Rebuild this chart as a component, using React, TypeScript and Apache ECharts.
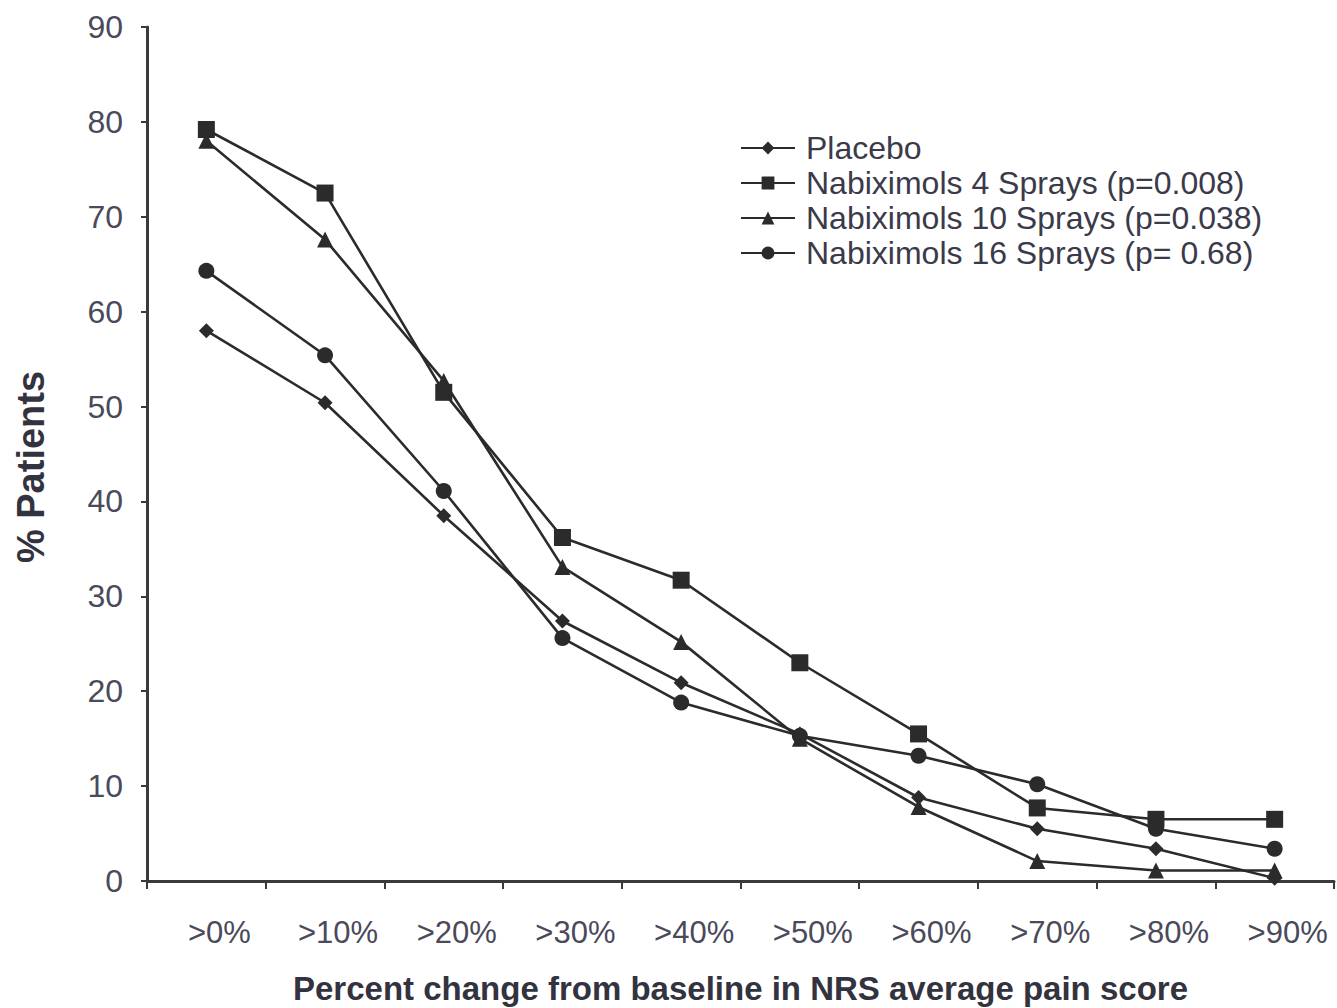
import React, { useEffect, useRef } from "react";
import * as echarts from "echarts";

const categories = [">0%", ">10%", ">20%", ">30%", ">40%", ">50%", ">60%", ">70%", ">80%", ">90%"];
const placebo = [58.0, 50.4, 38.5, 27.4, 20.9, 15.5, 8.8, 5.5, 3.4, 0.3];
const sprays4 = [79.2, 72.5, 51.5, 36.2, 31.7, 23.0, 15.5, 7.7, 6.5, 6.5];
const sprays10 = [78.0, 67.6, 52.7, 33.1, 25.2, 15.0, 7.8, 2.1, 1.1, 1.1];
const sprays16 = [64.3, 55.4, 41.1, 25.6, 18.8, 15.3, 13.2, 10.2, 5.5, 3.4];
const seriesNames = [
  "Placebo",
  "Nabiximols 4 Sprays (p=0.008)",
  "Nabiximols 10 Sprays (p=0.038)",
  "Nabiximols 16 Sprays (p= 0.68)",
];

const FONT = "Liberation Sans, Arial, sans-serif";
const INK = "#2b2b2b";

export default function App() {
  const ref = useRef<HTMLDivElement>(null);
  useEffect(() => {
    document.body.style.margin = "0";
    const chart = echarts.init(ref.current!, null, { renderer: "svg" });
    const mk = (name: string, data: number[], symbol: string, size: number) => ({
      name,
      type: "line",
      data,
      symbol,
      symbolSize: size,
      lineStyle: { color: INK, width: 2.6 },
      itemStyle: { color: INK },
    });
    const legendText = (lh: number) => ({
      fontFamily: FONT,
      fontSize: 32,
      lineHeight: lh,
      color: "#3a3a4a",
      padding: [0, 0, 0, 6],
    });
    chart.setOption({
      animation: false,
      backgroundColor: "#ffffff",
      grid: { left: 147, right: 3, top: 27, bottom: 127, outerBoundsMode: "none" },
      legend: [
        {
          data: [seriesNames[0]],
          orient: "vertical",
          left: 740,
          top: 132,
          padding: 0,
          itemWidth: 54,
          itemHeight: 16,
          textStyle: legendText(32),
          itemStyle: { color: INK },
        },
        {
          data: seriesNames.slice(1),
          orient: "vertical",
          left: 740,
          top: 166,
          padding: 0,
          itemGap: 1,
          itemWidth: 54,
          itemHeight: 16,
          textStyle: legendText(34),
          itemStyle: { color: INK },
        },
      ],
      xAxis: {
        type: "category",
        data: categories,
        boundaryGap: true,
        axisLine: { show: true, lineStyle: { color: "#3a3a3a", width: 3 } },
        axisTick: { show: true, length: 8, lineStyle: { color: "#3a3a3a", width: 2 } },
        axisLabel: {
          fontFamily: FONT,
          fontSize: 31,
          color: "#4a4a5a",
          margin: 36,
          padding: [0, 0, 0, 26],
        },
        name: "Percent change from baseline in NRS average pain score",
        nameLocation: "middle",
        nameGap: 91,
        nameTextStyle: { fontFamily: FONT, fontSize: 33, fontWeight: "bold", color: "#333340" },
      },
      yAxis: {
        type: "value",
        min: 0,
        max: 90,
        interval: 10,
        splitLine: { show: false },
        axisLine: { show: true, lineStyle: { color: "#3a3a3a", width: 3 } },
        axisTick: { show: true, length: 6, lineStyle: { color: "#3a3a3a", width: 2 } },
        axisLabel: { fontFamily: FONT, fontSize: 32, color: "#4a4a5a", margin: 24 },
        name: "% Patients",
        nameLocation: "middle",
        nameGap: 97,
        nameRotate: 90,
        nameTextStyle: {
          fontFamily: FONT,
          fontSize: 38,
          fontWeight: "bold",
          color: "#333340",
          padding: [0, 26, 0, 0],
        },
      },
      series: [
        mk(seriesNames[0], placebo, "diamond", 15),
        mk(seriesNames[1], sprays4, "rect", 17),
        mk(seriesNames[2], sprays10, "triangle", 16),
        mk(seriesNames[3], sprays16, "circle", 16),
      ],
    });
    return () => chart.dispose();
  }, []);
  return <div ref={ref} style={{ width: 1337, height: 1008 }} />;
}
